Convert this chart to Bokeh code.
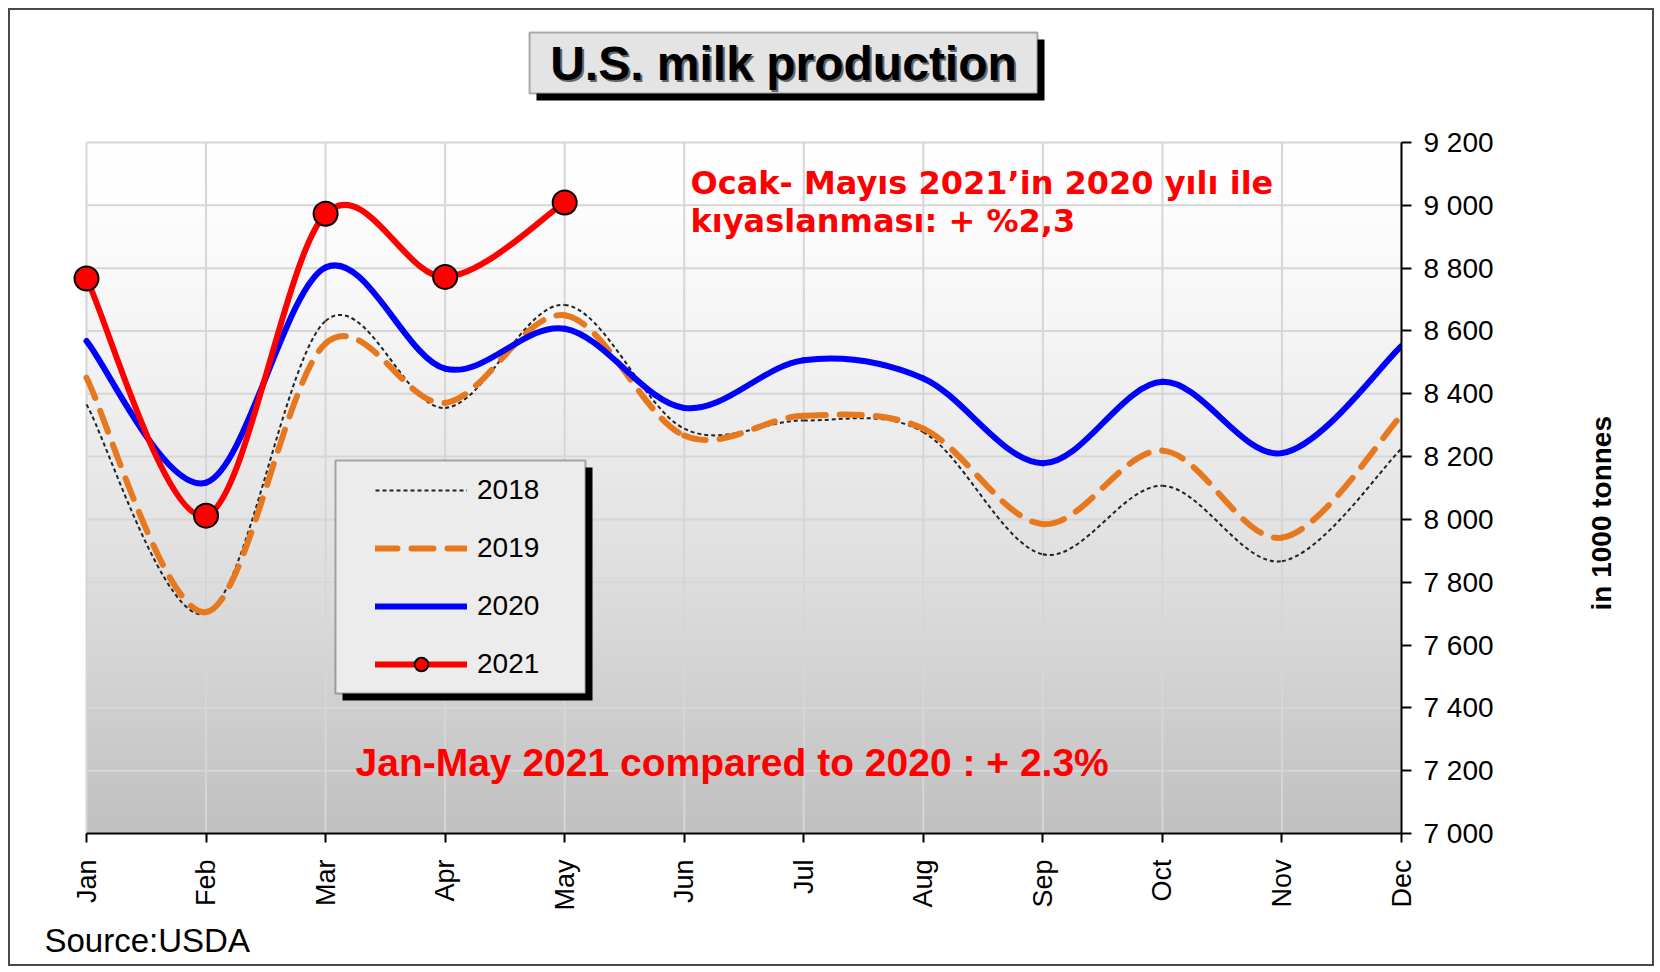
import numpy as np
from bokeh.plotting import figure
from bokeh.models import (Range1d, FixedTicker, Label, BoxAnnotation, Legend,
                          LegendItem, LinearAxis, Title)
from bokeh.embed import file_html
from bokeh.resources import INLINE

# ---------------- data ----------------
months = ["Jan", "Feb", "Mar", "Apr", "May", "Jun",
          "Jul", "Aug", "Sep", "Oct", "Nov", "Dec"]
y_ticks = [7000, 7200, 7400, 7600, 7800, 8000, 8200, 8400, 8600, 8800, 9000, 9200]
y_tick_labels = ["7 000", "7 200", "7 400", "7 600", "7 800", "8 000",
                 "8 200", "8 400", "8 600", "8 800", "9 000", "9 200"]
milk_2018 = [8366, 7700, 8632, 8355, 8683, 8289, 8315, 8278, 7889, 8107, 7867, 8225]
milk_2019 = [8451, 7705, 8560, 8371, 8650, 8267, 8330, 8289, 7985, 8219, 7942, 8331]
milk_2020 = [8568, 8117, 8802, 8480, 8607, 8355, 8507, 8449, 8179, 8438, 8211, 8552]
milk_2021 = [8767, 8012, 8973, 8772, 9009]
series_names = ["2018", "2019", "2020", "2021"]

title_text = "U.S. milk production"
y_axis_title = "in 1000 tonnes"
source_text = "Source:USDA"
note_tr_1 = "Ocak- Mayıs 2021’in 2020 yılı ile"
note_tr_2 = "kıyaslanması: + %2,3"
note_en = "Jan-May 2021 compared to 2020 : + 2.3%"

Y_MIN, Y_MAX = y_ticks[0], y_ticks[-1]
X_MAX = len(months) - 1


def smooth_segments(values):
    """Cubic Bezier segments (Catmull-Rom style) through the data points."""
    n = len(values)
    xs = list(range(n))
    out = dict(x0=[], y0=[], x1=[], y1=[], cx0=[], cy0=[], cx1=[], cy1=[])
    for i in range(n - 1):
        im1, ip2 = max(i - 1, 0), min(i + 2, n - 1)
        out["x0"].append(xs[i]); out["y0"].append(values[i])
        out["x1"].append(xs[i + 1]); out["y1"].append(values[i + 1])
        out["cx0"].append(xs[i] + (xs[i + 1] - xs[im1]) / 6.0)
        out["cy0"].append(values[i] + (values[i + 1] - values[im1]) / 6.0)
        out["cx1"].append(xs[i + 1] - (xs[ip2] - xs[i]) / 6.0)
        out["cy1"].append(values[i + 1] - (values[ip2] - values[i]) / 6.0)
    return out


FONT = "Liberation Sans"

# layout: plot area is 1315 x 691 px; the frame extends 76 px to the left and
# 132 px above it so that the title and the first marker are not clipped
PLOT_W, PLOT_H = 1315, 691
EXTRA_LEFT, EXTRA_TOP = 76, 132
x_left = -X_MAX * EXTRA_LEFT / PLOT_W
y_top = Y_MAX + (Y_MAX - Y_MIN) * EXTRA_TOP / PLOT_H
DX = EXTRA_LEFT  # screen offset of the plot area inside the frame

p = figure(width=1646, height=958,
           x_range=Range1d(x_left, X_MAX), y_range=Range1d(Y_MIN, y_top),
           y_axis_location="right",
           output_backend="svg", toolbar_location=None,
           min_border_left=0, min_border_right=255,
           min_border_top=0, min_border_bottom=135)
p.styles = {"border": "2px solid #4a4a4a", "margin-left": "8px", "margin-top": "8px"}
p.outline_line_color = None
p.background_fill_color = "white"
p.border_fill_color = "white"

# gradient background of the plot area (white top -> grey bottom)
N = 256
t = np.linspace(1.0, 0.0, N)          # row 0 = bottom (t=1), last row = top (t=0)
g = (255 - 63 * t ** 1.4).astype(np.uint8)
img = np.empty((N, 1), dtype=np.uint32)
view = img.view(dtype=np.uint8).reshape((N, 1, 4))
view[:, 0, 0] = g
view[:, 0, 1] = g
view[:, 0, 2] = g
view[:, 0, 3] = 255
p.image_rgba(image=[img], x=0, y=Y_MIN, dw=X_MAX, dh=Y_MAX - Y_MIN, level="image")

# grid lines limited to the plot area
GRID_COLOR = "#d6d6d6"
p.xgrid.visible = False
p.ygrid.visible = False
month_idx = list(range(len(months)))
p.segment(x0=month_idx, y0=[Y_MIN] * len(months), x1=month_idx, y1=[Y_MAX] * len(months),
          line_color=GRID_COLOR, line_width=2, level="underlay")
p.segment(x0=[0] * len(y_ticks), y0=y_ticks, x1=[X_MAX] * len(y_ticks), y1=y_ticks,
          line_color=GRID_COLOR, line_width=2, level="underlay")

# x axis
xa = p.xaxis[0]
xa.ticker = FixedTicker(ticks=month_idx)
xa.bounds = (0, X_MAX)
xa.major_label_overrides = {i: m for i, m in enumerate(months)}
xa.major_label_orientation = np.pi / 2
xa.major_label_text_font = FONT
xa.major_label_text_font_size = "27px"
xa.major_label_text_color = "black"
xa.major_label_standoff = 17
xa.axis_line_color = "black"
xa.axis_line_width = 2
xa.major_tick_line_color = "black"
xa.major_tick_line_width = 2
xa.major_tick_out = 9
xa.major_tick_in = 0
xa.minor_tick_line_color = None

# y axis (right)
ya = p.yaxis[0]
ya.ticker = FixedTicker(ticks=y_ticks)
ya.bounds = (Y_MIN, Y_MAX)
ya.major_label_overrides = {v: s for v, s in zip(y_ticks, y_tick_labels)}
ya.major_label_text_font = FONT
ya.major_label_text_font_size = "28px"
ya.major_label_text_color = "black"
ya.major_label_standoff = 12
ya.axis_line_color = "black"
ya.axis_line_width = 2
ya.major_tick_line_color = "black"
ya.major_tick_line_width = 2
ya.major_tick_out = 10
ya.major_tick_in = 0
ya.minor_tick_line_color = None

# axis title reading bottom-to-top: a second right axis with a single rotated label
TITLE_POS = 7710
ya2 = LinearAxis(ticker=FixedTicker(ticks=[TITLE_POS]),
                 major_label_overrides={TITLE_POS: y_axis_title},
                 major_label_orientation=np.pi / 2,
                 major_label_text_font=FONT, major_label_text_font_style="bold",
                 major_label_text_font_size="28px", major_label_text_color="black",
                 major_label_standoff=99,
                 axis_line_color=None, major_tick_line_color=None,
                 minor_tick_line_color=None)
p.add_layout(ya2, "right")

# source note below the axis
p.add_layout(Title(text=source_text, align="left", offset=-42 + DX, standoff=13,
                   text_font=FONT, text_font_style="normal",
                   text_font_size="33px", text_color="black"), "below")

# series
s18 = smooth_segments(milk_2018)
s19 = smooth_segments(milk_2019)
s20 = smooth_segments(milk_2020)
s21 = smooth_segments(milk_2021)

r18 = p.bezier(**s18, line_color="#222222", line_width=2, line_dash="4 3")
r19 = p.bezier(**s19, line_color="#E8781E", line_width=6, line_dash="22 14",
               line_cap="round")
r20 = p.bezier(**s20, line_color="#0000FF", line_width=6, line_cap="round")
r21 = p.bezier(**s21, line_color="#FF0000", line_width=6, line_cap="round")
r21m = p.scatter(list(range(len(milk_2021))), milk_2021, size=24,
                 fill_color="#FF0000", line_color="black", line_width=2)


def screen_box(left, right, bottom, top, **kw):
    return BoxAnnotation(left=left + DX, right=right + DX, bottom=bottom, top=top,
                         left_units="screen", right_units="screen",
                         bottom_units="screen", top_units="screen", **kw)


def screen_label(x, y, **kw):
    return Label(x=x + DX, y=y, x_units="screen", y_units="screen", **kw)


# legend box (shadow + box), legend itself transparent
p.add_layout(screen_box(256, 506, 133, 366, fill_color="black", fill_alpha=1,
                        line_color=None))
p.add_layout(screen_box(249, 499, 140, 373, fill_color="#ececec", fill_alpha=1,
                        line_color="black", line_width=2))
legend = Legend(items=[LegendItem(label=series_names[0], renderers=[r18]),
                       LegendItem(label=series_names[1], renderers=[r19]),
                       LegendItem(label=series_names[2], renderers=[r20]),
                       LegendItem(label=series_names[3], renderers=[r21, r21m])],
                location=(289 + DX, 152), padding=13, margin=0, spacing=24,
                glyph_width=92, glyph_height=34, label_height=34, label_width=96,
                label_standoff=10, label_text_font=FONT,
                label_text_font_size="28px", label_text_color="black",
                label_text_baseline="middle",
                background_fill_alpha=0, border_line_color=None)
p.add_layout(legend, "center")

# title box with shadow (inside the extended frame)
p.add_layout(screen_box(450, 958, 733, 794, fill_color="black", fill_alpha=1,
                        line_color=None))
p.add_layout(screen_box(443, 951, 740, 801, fill_color="#e4e4e4", fill_alpha=1,
                        line_color="black", line_width=2))
p.add_layout(screen_label(699, 768.5, text=title_text, text_align="center",
                          text_baseline="middle", text_font=FONT,
                          text_font_style="bold", text_font_size="48px",
                          text_color="#666666"))
p.add_layout(screen_label(697, 770.5, text=title_text, text_align="center",
                          text_baseline="middle", text_font=FONT,
                          text_font_style="bold", text_font_size="48px",
                          text_color="black"))

# annotations
p.add_layout(screen_label(604, 651, text=note_tr_1, text_align="left",
                          text_baseline="middle", text_font="DejaVu Sans",
                          text_font_style="bold", text_font_size="32px",
                          text_color="#FF0000"))
p.add_layout(screen_label(604, 613, text=note_tr_2, text_align="left",
                          text_baseline="middle", text_font="DejaVu Sans",
                          text_font_style="bold", text_font_size="32px",
                          text_color="#FF0000"))
p.add_layout(screen_label(269, 71, text=note_en, text_align="left",
                          text_baseline="middle", text_font=FONT,
                          text_font_style="bold", text_font_size="39px",
                          text_color="#FF0000"))

open("out.html", "w").write(file_html(p, INLINE))
